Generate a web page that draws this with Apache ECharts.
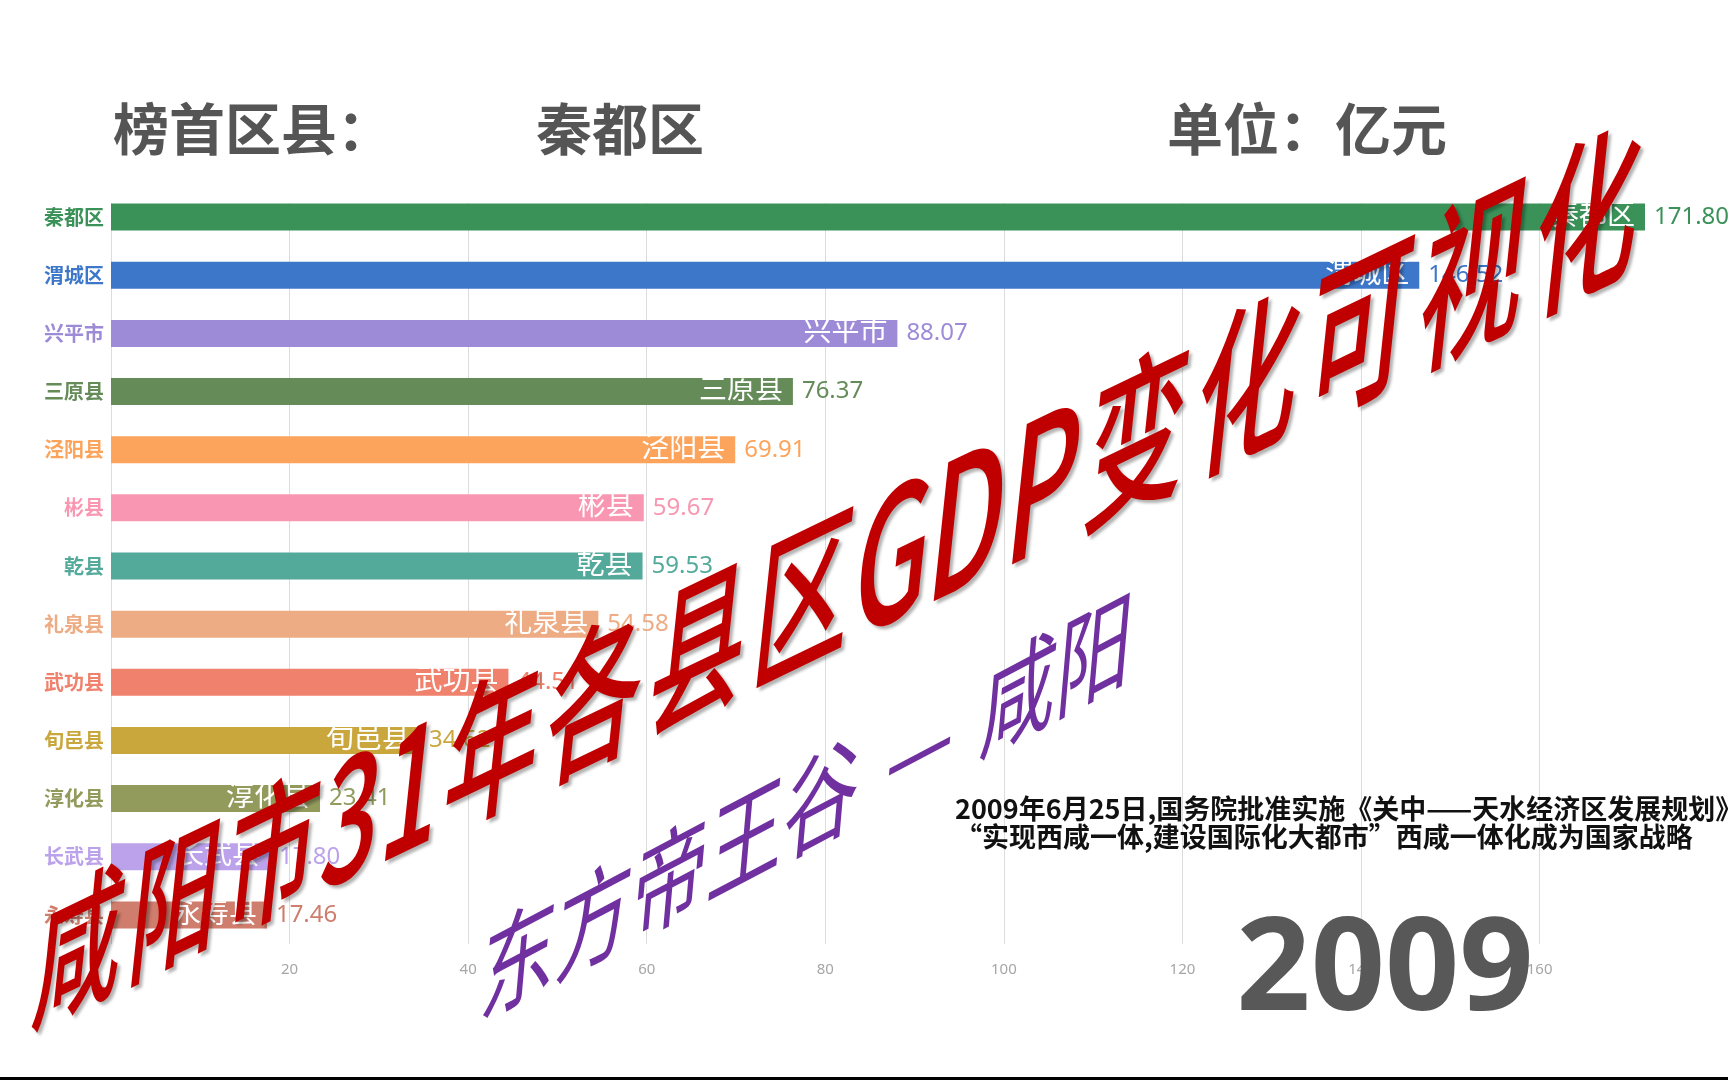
<!DOCTYPE html>
<html>
<head>
<meta charset="utf-8">
<title>咸阳市各县区GDP 2009</title>
<script src="https://cdn.jsdelivr.net/npm/echarts@6/dist/echarts.min.js"></script>
<style>
html, body { margin: 0; padding: 0; background: #fff; }
#chart { width: 1728px; height: 1080px; }
</style>
</head>
<body>
<div id="chart"></div>
<script>
// 2009 年各县区 GDP（亿元），已按大小排好
const countyNames = ['秦都区', '渭城区', '兴平市', '三原县', '泾阳县', '彬县', '乾县', '礼泉县', '武功县', '旬邑县', '淳化县', '长武县', '永寿县'];
const gdpValues = [171.80, 146.52, 88.07, 76.37, 69.91, 59.67, 59.53, 54.58, 44.51, 34.62, 23.41, 17.80, 17.46];
const barColors = ['#3b9259', '#3d77c9', '#9d8bd8', '#648b58', '#fda45c', '#f997b2', '#53aa9b', '#eeac84', '#f0816c', '#c9a73d', '#939b5c', '#bba2ea', '#cf7d6d'];
const tickLabels = ['20', '40', '60', '80', '100', '120', '140', '160'];

const yearText = '2009';
const topName = '秦都区';
const noteLines = [
    '2009年6月25日,国务院批准实施《关中——天水经济区发展规划》',
    '“实现西咸一体,建设国际化大都市”西咸一体化成为国家战略'
];

const cjk = '"Noto Sans CJK SC", "Noto Sans", sans-serif';

// 单个字的倾斜艺术字：基线角度 + 竖笔倾斜 + 竖向拉伸，拆成 旋转·缩放·旋转 两层 group
function wordArt(cx, cy, text, fontSize, baseDeg, leanDeg, stretch, style) {
    const b = baseDeg * Math.PI / 180, l = leanDeg * Math.PI / 180;
    const a = Math.cos(b), c = Math.sin(b);
    const bb = stretch * Math.sin(l), d = stretch * Math.cos(l);
    const E = (a + d) / 2, F = (a - d) / 2, G = (c + bb) / 2, H = (c - bb) / 2;
    const Q = Math.hypot(E, H), R = Math.hypot(F, G);
    const a1 = Math.atan2(G, F), a2 = Math.atan2(H, E);
    return {
        type: 'group', x: cx, y: cy, z: 100,
        rotation: (a2 + a1) / 2, scaleX: Q + R, scaleY: Q - R,
        children: [{
            type: 'text', z: 100, rotation: (a2 - a1) / 2,
            style: Object.assign({
                text: text, fontSize: fontSize, fontFamily: cjk,
                textAlign: 'center', align: 'center',
                textVerticalAlign: 'middle', verticalAlign: 'middle'
            }, style)
        }]
    };
}

// 字宽（em）：汉字 1，数字/字母窄一些
function emOf(ch) {
    if (ch === ' ') return 0.3;
    if (/[0-9]/.test(ch)) return 0.6;
    if (/[A-Z]/.test(ch)) return 0.7;
    return 1;
}

// 一行斜排文字，从第一个字中心排到最后一个字中心，字号逐渐变大（透视感）
function wordArtLine(text, x0, y0, x1, y1, grow, glyphScale, leanDeg, stretch, style) {
    const chars = Array.from(text);
    const n = chars.length;
    const k = chars.map((ch, i) => 1 + (grow - 1) * i / (n - 1));
    let unit = 0;
    for (let i = 0; i < n - 1; i++) unit += (emOf(chars[i]) * k[i] + emOf(chars[i + 1]) * k[i + 1]) / 2;
    const dx = x1 - x0, dy = y1 - y0, len = Math.hypot(dx, dy);
    const base = len / unit;
    const baseDeg = Math.atan2(-dy, dx) * 180 / Math.PI;
    const out = [];
    let s = 0;
    chars.forEach((ch, i) => {
        if (i > 0) s += (emOf(chars[i - 1]) * k[i - 1] + emOf(ch) * k[i]) / 2 * base;
        if (ch === ' ') return;
        // 拉丁字母在思源黑体里偏小，放大一点
        const latin = /[A-Z0-9]/.test(ch) ? 1.1 : 1;
        out.push(wordArt(x0 + dx / len * s, y0 + dy / len * s, ch, base * k[i] * glyphScale * latin, baseDeg, leanDeg, stretch, style));
    });
    return out;
}

function plainText(x, y, text, size, color, weight, align) {
    return {
        type: 'text', x: x, y: y, z: 5,
        style: {
            text: text, fontSize: size, fontWeight: weight || 'normal', fontFamily: cjk, fill: color,
            textAlign: align || 'left', align: align || 'left',
            textVerticalAlign: 'middle', verticalAlign: 'middle'
        }
    };
}

const chart = echarts.init(document.getElementById('chart'));

const option = {
    backgroundColor: '#ffffff',
    animation: false,
    grid: { left: 111, right: 83, top: 188, bottom: 136 },
    xAxis: {
        type: 'value',
        min: 0,
        max: 'dataMax',
        interval: 20,
        axisLine: { show: false },
        axisTick: { show: false },
        splitLine: { showMaxLine: false, lineStyle: { color: '#dcdcdc', width: 1 } },
        axisLabel: {
            margin: 18,
            color: '#a6a6a6',
            fontSize: 15,
            fontFamily: '"Liberation Sans Narrow", "Noto Sans", sans-serif',
            showMinLabel: false,
            showMaxLabel: false,
            formatter: v => tickLabels.includes(String(v)) ? String(v) : ''
        }
    },
    yAxis: {
        type: 'category',
        inverse: true,
        data: countyNames,
        axisLine: { show: false },
        axisTick: { show: false },
        axisLabel: {
            margin: 7,
            fontSize: 20,
            fontWeight: 'bold',
            fontFamily: cjk,
            color: (value, index) => barColors[index]
        }
    },
    series: [
        {
            type: 'bar',
            barWidth: 27,
            data: gdpValues.map((v, i) => ({ value: v, itemStyle: { color: barColors[i] } })),
            label: {
                show: true,
                position: 'insideRight',
                distance: 10,
                offset: [0, -3],
                formatter: '{b}',
                color: '#ffffff',
                fontSize: 28,
                fontFamily: cjk
            }
        },
        {
            type: 'bar',
            barWidth: 27,
            barGap: '-100%',
            silent: true,
            data: gdpValues.map((v, i) => ({
                value: v,
                itemStyle: { color: 'rgba(0,0,0,0)' },
                label: { color: barColors[i] }
            })),
            label: {
                show: true,
                position: 'right',
                distance: 9,
                formatter: p => p.value.toFixed(2),
                fontSize: 24,
                fontFamily: '"Noto Sans", sans-serif'
            }
        }
    ],
    graphic: [
        // 第一根柱子上方不露网格线
        { type: 'rect', z: 1, shape: { x: 109, y: 185, width: 1545, height: 18 }, style: { fill: '#ffffff' } },
        plainText(113, 129, '榜首区县：', 56, '#555555', 'bold'),
        plainText(536, 129, topName, 56, '#555555', 'bold'),
        plainText(1167, 129, '单位：亿元', 56, '#555555', 'bold'),
        {
            type: 'text', x: 1385, y: 973, z: 1,
            style: {
                text: yearText, fontSize: 130, fontWeight: 'bold',
                fontFamily: '"Open Sans", "Noto Sans", sans-serif', fill: '#585858',
                textAlign: 'center', align: 'center', textVerticalAlign: 'middle', verticalAlign: 'middle'
            }
        },
        plainText(955, 809, noteLines[0], 27, '#111111', 'bold'),
        plainText(955, 837, noteLines[1], 27, '#111111', 'bold'),
        ...wordArtLine('咸阳市31年各县区GDP变化可视化', 80, 945, 1588, 218, 1.2, 0.93, 6, 1.55, {
            fill: '#c00000', fontWeight: 500,
            textShadowColor: 'rgba(0,0,0,0.3)', textShadowBlur: 3, textShadowOffsetX: 3, textShadowOffsetY: 3
        }),
        ...wordArtLine('东方帝王谷 — 咸阳', 519, 957, 1095, 653, 1.0, 1.0, 5, 1.3, { fill: '#7030a0' }),
        { type: 'rect', z: 100, shape: { x: 0, y: 1077, width: 1728, height: 3 }, style: { fill: '#000' } }
    ]
};

chart.setOption(option);
</script>
</body>
</html>
